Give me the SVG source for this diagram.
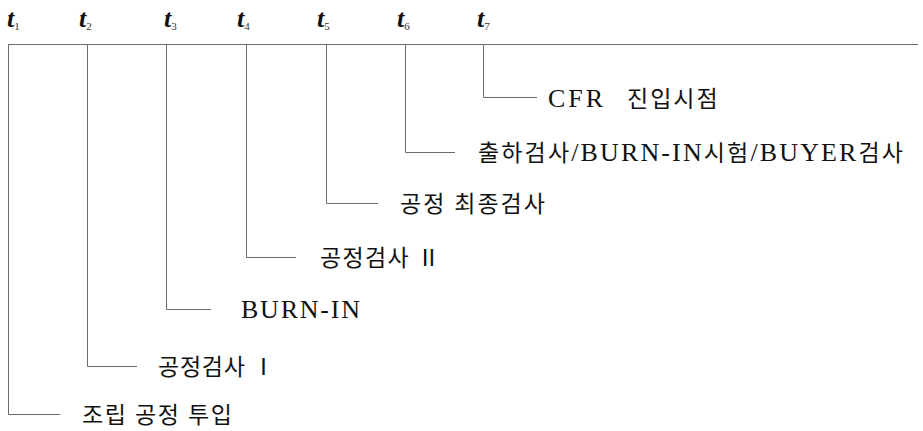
<svg xmlns="http://www.w3.org/2000/svg" width="923" height="431" viewBox="0 0 923 431">
<style>
.ln{fill:none;stroke:#6a6a6a;stroke-width:1}
.lb{font-family:"Liberation Serif","Noto Sans CJK KR",serif;font-size:23px;fill:#111}
.e{font-size:26px}
.t{font-family:"Liberation Serif",serif;font-size:26px;font-style:italic;font-weight:bold;fill:#111}
.s{font-family:"Liberation Serif",serif;font-size:11px;font-style:normal;font-weight:normal;fill:#333}
</style>
<rect width="923" height="431" fill="#fff"/>
<g id="time-labels">
<text class="t" x="7" y="27">t<tspan class="s" dy="3">1</tspan></text>
<text class="t" x="79" y="27">t<tspan class="s" dy="3">2</tspan></text>
<text class="t" x="164" y="27">t<tspan class="s" dy="3">3</tspan></text>
<text class="t" x="237" y="27">t<tspan class="s" dy="3">4</tspan></text>
<text class="t" x="317" y="27">t<tspan class="s" dy="3">5</tspan></text>
<text class="t" x="397" y="27">t<tspan class="s" dy="3">6</tspan></text>
<text class="t" x="477" y="27">t<tspan class="s" dy="3">7</tspan></text>
</g>
<g id="connectors">
<path class="ln" d="M8,44.5H918"/>
<path class="ln" d="M8.5,44.5V414.5H60"/>
<path class="ln" d="M87.5,44.5V366.5H137"/>
<path class="ln" d="M166.5,44.5V309.5H211"/>
<path class="ln" d="M246.5,44.5V257.5H296"/>
<path class="ln" d="M326.5,44.5V203.5H378"/>
<path class="ln" d="M405.5,44.5V152.5H455"/>
<path class="ln" d="M483.5,44.5V97.5H537"/>
</g>
<g id="n1"><text class="lb" x="82" y="423" textLength="150" lengthAdjust="spacing">조립 공정 투입</text></g>
<g id="n2"><text class="lb" x="158" y="375" textLength="117" lengthAdjust="spacing">공정검사 Ⅰ</text></g>
<g id="n3"><text class="lb e" x="241" y="318" textLength="119" lengthAdjust="spacing">BURN-IN</text></g>
<g id="n4"><text class="lb" x="320" y="266" textLength="120" lengthAdjust="spacing">공정검사 Ⅱ</text></g>
<g id="n5"><text class="lb" x="400" y="212" textLength="145" lengthAdjust="spacing">공정 최종검사</text></g>
<g id="n6"><text class="lb" x="478" y="161" textLength="425" lengthAdjust="spacing">출하검사<tspan class="e">/BURN-IN</tspan>시험<tspan class="e">/BUYER</tspan>검사</text></g>
<g id="n7"><text class="lb" x="548" y="107"><tspan class="e" letter-spacing="3">CFR</tspan><tspan x="627" letter-spacing="2">진입시점</tspan></text></g>
</svg>
